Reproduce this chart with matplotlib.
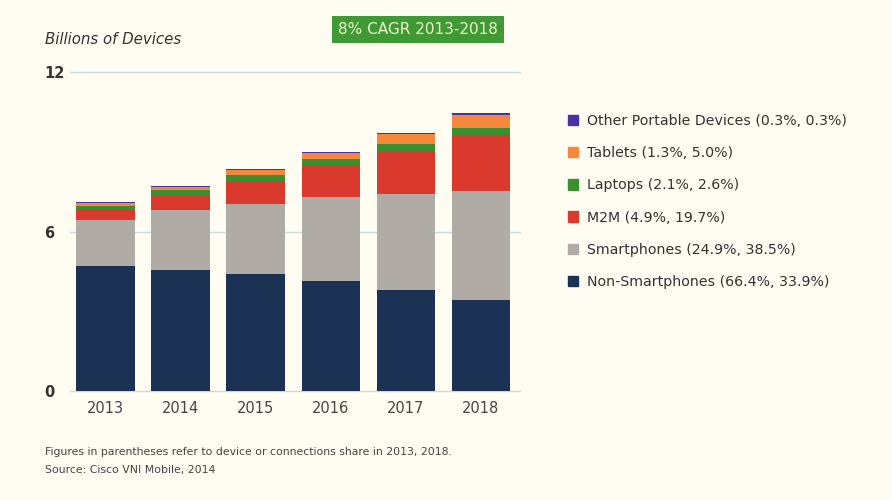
import numpy as np
import matplotlib
matplotlib.use("Agg")
import matplotlib.pyplot as plt
from matplotlib.patches import Patch

# values (billions of devices)
years = ["2013", "2014", "2015", "2016", "2017", "2018"]
non_smart = [4.69, 4.54, 4.42, 4.13, 3.79, 3.44]
smart = [1.76, 2.25, 2.63, 3.16, 3.63, 4.09]
m2m = [0.40, 0.54, 0.86, 1.21, 1.62, 2.11]
laptops = [0.12, 0.22, 0.23, 0.24, 0.25, 0.25]
tablets = [0.10, 0.13, 0.16, 0.21, 0.38, 0.50]
other = [0.05, 0.05, 0.05, 0.05, 0.05, 0.05]

series = [non_smart, smart, m2m, laptops, tablets, other]
labels = ["Non-Smartphones (66.4%, 33.9%)",
          "Smartphones (24.9%, 38.5%)",
          "M2M (4.9%, 19.7%)",
          "Laptops (2.1%, 2.6%)",
          "Tablets (1.3%, 5.0%)",
          "Other Portable Devices (0.3%, 0.3%)"]
colors = ["#1b3254", "#b1aba5", "#da3a2d", "#3b8f2e", "#f5883a", "#4b2fa3"]

bg = "#fffdf1"
fig = plt.figure(figsize=(8.92, 5.0), dpi=100, facecolor=bg)
ax = fig.add_axes([0.078, 0.218, 0.505, 0.638], facecolor=bg)

x = np.arange(len(years))
bottom = np.zeros(len(years))
for vals, col in zip(series, colors):
    ax.bar(x, vals, bottom=bottom, width=0.78, color=col, zorder=2)
    bottom += np.array(vals)

# grid lines
for yv in [0, 6, 12]:
    ax.axhline(yv, color="#c8dbe2", lw=1, zorder=1, clip_on=False)

ax.set_xlim(-0.48, 5.52)
ax.set_ylim(0, 12)
for s in ax.spines.values():
    s.set_visible(False)
ax.set_xticks(x)
ax.set_xticklabels(years, fontsize=10.5, color="#444444")
ax.set_yticks([0, 6, 12])
ax.set_yticklabels(["0", "6", "12"], fontsize=10.5, color="#333333",
                   fontweight="bold", ha="left")
ax.tick_params(axis="y", length=0, pad=18)
ax.tick_params(axis="x", length=0, pad=7)

fig.text(0.05, 0.922, "Billions of Devices", fontsize=10.8, style="italic",
         color="#333333", va="center")
fig.text(0.469, 0.941, "8% CAGR 2013-2018", fontsize=11, color="#eef3c8",
         ha="center", va="center",
         bbox=dict(boxstyle="square,pad=0.4", fc="#3f9a35", ec="none"))

handles = [Patch(color=c) for c in colors]
fig.legend(handles[::-1], labels[::-1], loc="upper left",
           bbox_to_anchor=(0.622, 0.798), frameon=False, fontsize=10.2,
           labelcolor="#333333", handlelength=0.75, handleheight=0.75,
           handletextpad=0.6, labelspacing=1.29)

fig.text(0.05, 0.096, "Figures in parentheses refer to device or connections share in 2013, 2018.",
         fontsize=7.8, color="#444444", va="center")
fig.text(0.05, 0.060, "Source: Cisco VNI Mobile, 2014",
         fontsize=7.8, color="#444444", va="center")

fig.savefig("out.png", dpi=100, facecolor=bg)
